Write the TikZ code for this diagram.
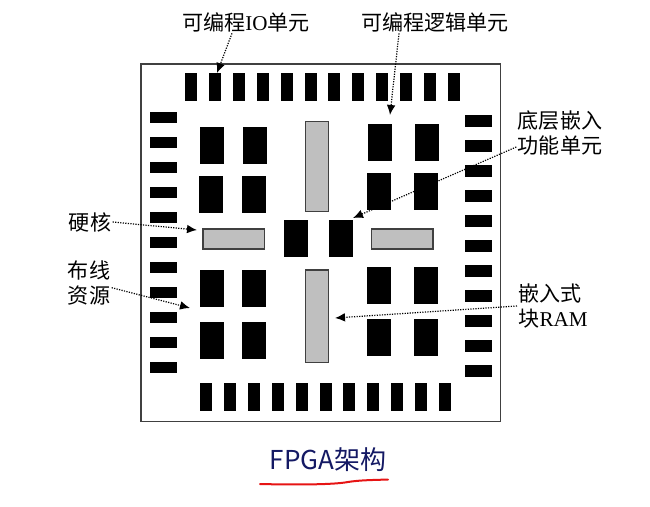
\documentclass[tikz,border=0pt]{standalone}
\usepackage{fontspec}
\setmainfont{Noto Sans CJK SC}
\newfontfamily\latserif{Liberation Serif}
\usetikzlibrary{arrows.meta}
\colorlet{pad fill}{black}
\colorlet{core fill}{black!25}
\colorlet{chip edge}{black!75}
\definecolor{title blue}{RGB}{20,25,100}
\definecolor{mark red}{RGB}{230,20,20}
\tikzset{
  pad/.style={fill=pad fill},
  logicblk/.style={fill=black},
  hardblk/.style={fill=core fill, draw=chip edge, line width=0.8pt},
  chip/.style={draw=chip edge, line width=1pt},
  callout/.style={densely dotted, line width=0.9pt, -{Latex[length=7.5pt,width=6.5pt]}},
  tag/.style={font=\fontsize{15.8}{18.8}\selectfont, inner sep=1pt, align=center}
}

\begin{document}
\begin{tikzpicture}[x=0.75pt, y=-0.75pt]
    \useasboundingbox (0,0) rectangle (650,507);
    % chip outline
    \draw[chip] (141,64) rectangle (500.5,421.5);
    % I/O pads on the four sides
    \foreach \i in {0,...,11}
      \fill[pad] ({185+23.9*\i},73) rectangle ++(12,28);
    \foreach \i in {0,...,10}
      \fill[pad] ({200+23.9*\i},383) rectangle ++(12,28);
    \foreach \i in {0,...,10}
      \fill[pad] (150,{111.7+25*\i}) rectangle ++(27.3,11.7);
    \foreach \i in {0,...,10}
      \fill[pad] (465,{115+25*\i}) rectangle ++(27.3,11.7);
    % logic blocks
    \foreach \x/\y in {200/127, 243/127, 199/176, 242/176,
                       368/124, 415/124, 367/173, 414/173,
                       284/220, 329/220,
                       200/270, 242/270, 200/322, 242/322,
                       367/267, 414/267, 367/319, 414/319}
      \fill[logicblk] (\x,\y) rectangle ++(24,36.5);
    % hard cores and block RAM
    \draw[hardblk] (305.3,121.7) rectangle (328.7,211.7);
    \draw[hardblk] (305.3,270) rectangle (328.7,362.7);
    \draw[hardblk] (203,229) rectangle (264.7,249);
    \draw[hardblk] (371.3,229) rectangle (433,249);

    % labels
    \node[tag] (iolabel) at (246,22) {可编程{\latserif IO}单元};
    \node[tag] (logiclabel) at (435,22) {可编程逻辑单元};
    \node[tag] (dsplabel) at (560,133) {底层嵌入\\功能单元};
    \node[tag, align=left, anchor=west] (ramlabel) at (517,306) {嵌入式\\块{\latserif RAM}};
    \node[tag] (hardlabel) at (90,222) {硬核};
    \node[tag] (routelabel) at (89,283) {布线\\资源};
    \node[font=\fontsize{19.5}{22}\selectfont, text=title blue] (title) at (328,460) {FPGA架构};

    % arrow targets
    \coordinate (iotip) at (217,73);
    \coordinate (logictip) at (390,115);
    \coordinate (dsptip) at (353,218);
    \coordinate (ramtip) at (335,318);
    \coordinate (hardtip) at (197,230);
    \coordinate (routetip) at (190,308);

    \draw[callout] ([xshift=-10.5pt]iolabel.south) -- (iotip);
    \draw[callout] ([xshift=-27pt]logiclabel.south) -- (logictip);
    \draw[callout] ([yshift=-10.5pt]dsplabel.west) -- (dsptip);
    \draw[callout] (ramlabel.west) -- (ramtip);
    \draw[callout] (hardlabel.east) -- (hardtip);
    \draw[callout] ([yshift=-3.5pt]routelabel.east) -- (routetip);

    % red underline below the title
    \coordinate (lineL) at (260,484);
    \coordinate (lineR) at (388,479.5);
    \draw[mark red, line width=1.5pt, line cap=round]
      (lineL) .. controls (300,485) and (335,484.5) .. (348,482)
              .. controls (360,480) and (375,480) .. (lineR);
\end{tikzpicture}
\end{document}
